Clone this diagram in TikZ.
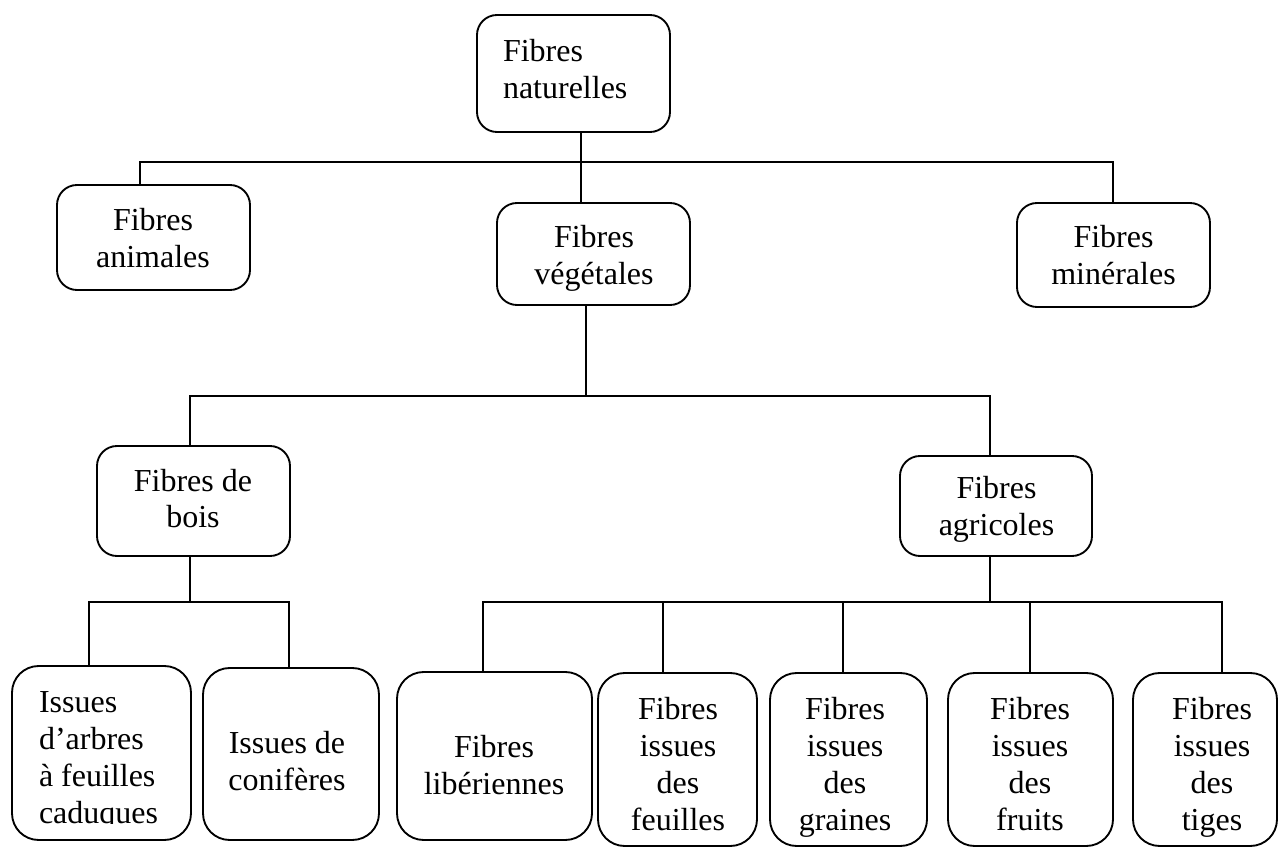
\documentclass[tikz,border=0pt]{standalone}
\usepackage{fontspec}
\setmainfont{Liberation Serif}
\usetikzlibrary{calc}
\begin{document}
\begin{tikzpicture}[x=0.75pt,y=-0.75pt,line width=1.4pt,
  box/.style={draw,rounded corners=15pt,inner sep=0pt,outer sep=0pt},
  bigbox/.style={draw,rounded corners=20pt,inner sep=0pt,outer sep=0pt},
  lbl/.style={inner sep=0pt,outer sep=0pt,align=center,anchor=base,font=\fontsize{24}{27.75}\selectfont},
  lbll/.style={inner sep=0pt,outer sep=0pt,align=left,anchor=base west,font=\fontsize{24}{27.75}\selectfont}]
\useasboundingbox (0,0) rectangle (1279,848);
% boxes
\node[box,minimum width=144.75pt,minimum height=87.75pt] (nat) at (573.5,73.5) {};
\node[box,minimum width=144.75pt,minimum height=78.75pt] (ani) at (153.5,237.5) {};
\node[box,minimum width=144.75pt,minimum height=76.5pt] (veg) at (593.5,254) {};
\node[box,minimum width=144.75pt,minimum height=78pt] (min) at (1113.5,255) {};
\node[box,minimum width=144.75pt,minimum height=82.5pt] (bois) at (193.5,501) {};
\node[box,minimum width=144pt,minimum height=75pt] (agr) at (996,506) {};
\node[bigbox,minimum width=134.25pt,minimum height=130.5pt] (arb) at (101.5,753) {};
\node[bigbox,minimum width=132pt,minimum height=129pt] (con) at (291,754) {};
\node[bigbox,minimum width=146.25pt,minimum height=126pt] (lib) at (494.5,756) {};
\node[bigbox,minimum width=119.25pt,minimum height=129.75pt] (feu) at (677.5,759.5) {};
\node[bigbox,minimum width=117.75pt,minimum height=129.75pt] (gra) at (848.5,759.5) {};
\node[bigbox,minimum width=123.75pt,minimum height=129.75pt] (fru) at (1030.5,759.5) {};
\node[bigbox,minimum width=108pt,minimum height=129.75pt] (tig) at (1205,759.5) {};
% labels (positioned at the baseline of their last line)
\node[lbll] (tnat) at (503,99) {Fibres\\naturelles};
\node[lbl] (tani) at (153,268) {Fibres\\animales};
\node[lbl] (tveg) at (594,285) {Fibres\\végétales};
\node[lbl] (tmin) at (1113.5,285) {Fibres\\minérales};
\node[lbl] (tbois) at (193,528) {Fibres de\\bois};
\node[lbl] (tagr) at (996.5,536) {Fibres\\agricoles};
\begin{scope}
\clip (0,0) rectangle (1279,823);
\node[lbll] (tarb) at (39,823) {Issues\\d’arbres\\à feuilles\\caduques};
\end{scope}
\node[lbl] (tcon) at (287,790) {Issues de\\conifères};
\node[lbl] (tlib) at (494,794) {Fibres\\libériennes};
\node[lbl] (tfeu) at (678,830) {Fibres\\issues\\des\\feuilles};
\node[lbl] (tgra) at (845,830) {Fibres\\issues\\des\\graines};
\node[lbl] (tfru) at (1030,830) {Fibres\\issues\\des\\fruits};
\node[lbl] (ttig) at (1212,830) {Fibres\\issues\\des\\tiges};
% connectors
\coordinate (b1) at (581,162);
\coordinate (b2) at (586,396);
\coordinate (b3) at (190,602);
\coordinate (b4) at (990,602);
\draw ($(nat.south)+(7.5,0)$) -- ($(veg.north)+(-12.5,0)$);
\draw ($(ani.north)+(-13.5,0)$) |- (b1) -| ($(min.north)+(-0.5,0)$);
\draw ($(veg.south)+(-7.5,0)$) -- (b2);
\draw ($(bois.north)+(-3.5,0)$) |- (b2) -| ($(agr.north)+(-6,0)$);
\draw ($(bois.south)+(-3.5,0)$) -- (b3);
\draw ($(arb.north)+(-12.5,0)$) |- (b3) -| ($(con.north)+(-2,0)$);
\draw ($(agr.south)+(-6,0)$) -- (b4);
\draw ($(lib.north)+(-11.5,0)$) |- (b4) -| ($(tig.north)+(17,0)$);
\draw ($(feu.north)+(-14.5,0)$) -- ($(feu.north)+(-14.5,-71)$);
\draw ($(gra.north)+(-5.5,0)$) -- ($(gra.north)+(-5.5,-71)$);
\draw ($(fru.north)+(-0.5,0)$) -- ($(fru.north)+(-0.5,-71)$);
\end{tikzpicture}
\end{document}
